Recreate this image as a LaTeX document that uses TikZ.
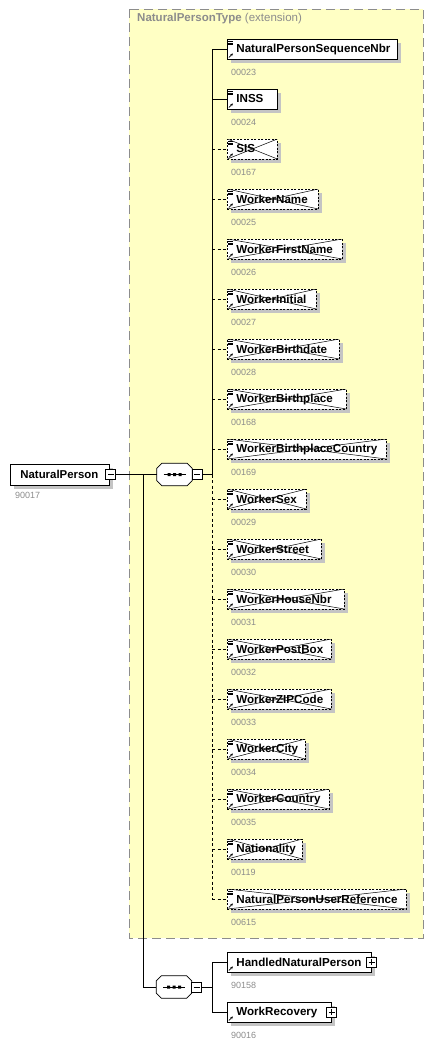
\documentclass[tikz,border=0pt]{standalone}
\usepackage{fontspec}
\setmainfont{Liberation Sans}
\usetikzlibrary{shadows,arrows.meta}

\definecolor{typebg}{HTML}{FFFFC4}
\definecolor{typeline}{HTML}{8C8C8C}
\definecolor{idgray}{HTML}{8C8C8C}
\definecolor{shadowgray}{HTML}{C4C4C4}

\newcommand{\elemicon}{%
  \draw[solid,line width=0.6pt]
    ([shift={(1pt,-2pt)}]path picture bounding box.north west) -- ++(5pt,0pt)
    ([shift={(1pt,-3.8pt)}]path picture bounding box.north west) -- ++(5pt,0pt)
    ([shift={(1pt,-5.6pt)}]path picture bounding box.north west) -- ++(5pt,0pt);
  \draw[solid,line width=0.6pt,-{Stealth[length=2.6pt,width=2.6pt]}]
    ([shift={(1.5pt,1.5pt)}]path picture bounding box.south west) -- ++(4pt,4pt);}
\newcommand{\elemcross}{%
  \draw[solid,line width=0.5pt]
    (path picture bounding box.north west) -- (path picture bounding box.south east)
    (path picture bounding box.south west) -- (path picture bounding box.north east);}
% octagon of a sequence compositor
\newcommand{\seqpath}[1]{([xshift=5pt]#1.north west) -- ([xshift=-5pt]#1.north east)
  -- ([yshift=-5pt]#1.north east) -- ([yshift=5pt]#1.south east)
  -- ([xshift=-5pt]#1.south east) -- ([xshift=5pt]#1.south west)
  -- ([yshift=5pt]#1.south west) -- ([yshift=-5pt]#1.north west) -- cycle}
\newcommand{\seqdots}[1]{%
  \draw[line width=0.8pt] ([xshift=-11pt]#1.center) -- ([xshift=11pt]#1.center);
  \fill ([shift={(-7pt,-1.5pt)}]#1.center) rectangle ([shift={(-4pt,1.5pt)}]#1.center)
        ([shift={(-1.5pt,-1.5pt)}]#1.center) rectangle ([shift={(1.5pt,1.5pt)}]#1.center)
        ([shift={(4pt,-1.5pt)}]#1.center) rectangle ([shift={(7pt,1.5pt)}]#1.center);}

\tikzset{
  typeframe/.style={draw=typeline, fill=typebg, line width=1pt, dash pattern=on 9pt off 5pt},
  typetitle/.style={anchor=west, inner sep=0pt, text=typeline, font=\fontsize{11.5}{13}\selectfont},
  shadowed/.style={drop shadow={shadow xshift=4pt, shadow yshift=-4pt, fill=shadowgray, opacity=1}},
  rootbox/.style={draw, fill=white, line width=0.8pt, anchor=west, minimum height=21pt,
    inner xsep=0pt, inner ysep=0pt, align=left, shadowed,
    font=\fontsize{11.4}{13}\selectfont\bfseries},
  elembox/.style={rootbox, font=\fontsize{11.6}{13}\selectfont\bfseries, minimum height=20pt,
    path picture={\elemicon}},
  optbox/.style={elembox, dash pattern=on 2pt off 1.5pt, path picture={\elemicon\elemcross}},
  refbox/.style={rootbox, font=\fontsize{11.6}{13}\selectfont\bfseries, minimum height=20pt,
    path picture={\draw[solid,line width=0.6pt,-{Stealth[length=2.6pt,width=2.6pt]}]
    ([shift={(1.5pt,1.5pt)}]path picture bounding box.south west) -- ++(4pt,4pt);}},
  idlbl/.style={anchor=west, inner sep=0pt, text=idgray, font=\fontsize{9}{10}\selectfont},
  togglebox/.style={draw, fill=white, line width=0.8pt, minimum size=10pt, inner sep=0pt},
  minusbox/.style={togglebox, path picture={\draw[line width=0.8pt]
    ([xshift=2pt]path picture bounding box.west) -- ([xshift=-2pt]path picture bounding box.east);}},
  plusbox/.style={togglebox, path picture={\draw[line width=0.8pt]
    ([xshift=2pt]path picture bounding box.west) -- ([xshift=-2pt]path picture bounding box.east)
    ([yshift=-2pt]path picture bounding box.north) -- ([yshift=2pt]path picture bounding box.south);}},
  seqbox/.style={rectangle, minimum width=35pt, minimum height=22pt, inner sep=0pt},
  seqline/.style={draw, fill=white, line width=0.8pt},
  conn/.style={line width=0.8pt},
  optconn/.style={line width=0.8pt, dash pattern=on 3pt off 2.5pt}
}

\begin{document}
\begin{tikzpicture}[x=1pt,y=-1pt]
  \useasboundingbox (0,0) rectangle (436,1044);

  % complex type frame
  \draw[typeframe] (129,9) rectangle (423,938);
  \node[typetitle] (title) at (137,19) {{\bfseries NaturalPersonType} (extension)};

  % root element
  \node[rootbox, text width=99pt] (np) at (10,474.5) {\hspace*{10pt}NaturalPerson};
  \node[minusbox] (np-m) at ([xshift=1pt]np.east) {};
  \node[idlbl] (np-id) at (15,495) {90017};

  % sequences
  \node[seqbox] (seq1) at (174.5,474.5) {};
  \fill[shadowgray, shift={(4pt,-4pt)}] \seqpath{seq1};
  \draw[seqline] \seqpath{seq1};
  \seqdots{seq1}
  \node[minusbox] (seq1-m) at ([xshift=5pt]seq1.east) {};
  \node[seqbox] (seq2) at (174,987) {};
  \fill[shadowgray, shift={(4pt,-4pt)}] \seqpath{seq2};
  \draw[seqline] \seqpath{seq2};
  \seqdots{seq2}
  \node[minusbox] (seq2-m) at ([xshift=5pt]seq2.east) {};

  % elements of the type
  \node[elembox, text width=170pt] (e1)  at (227,49)  {\hspace*{9pt}NaturalPersonSequenceNbr};
  \node[elembox, text width=50pt]  (e2)  at (227,99)  {\hspace*{9pt}INSS};
  \node[optbox,  text width=50pt]  (e3)  at (227,149) {\hspace*{9pt}SIS};
  \node[optbox,  text width=91pt]  (e4)  at (227,199) {\hspace*{9pt}WorkerName};
  \node[optbox,  text width=115pt] (e5)  at (227,249) {\hspace*{9pt}WorkerFirstName};
  \node[optbox,  text width=89pt]  (e6)  at (227,299) {\hspace*{9pt}WorkerInitial};
  \node[optbox,  text width=112pt] (e7)  at (227,349) {\hspace*{9pt}WorkerBirthdate};
  \node[optbox,  text width=119pt] (e8)  at (227,399) {\hspace*{9pt}WorkerBirthplace};
  \node[optbox,  text width=159pt] (e9)  at (227,449) {\hspace*{9pt}WorkerBirthplaceCountry};
  \node[optbox,  text width=79pt]  (e10) at (227,499) {\hspace*{9pt}WorkerSex};
  \node[optbox,  text width=94pt]  (e11) at (227,549) {\hspace*{9pt}WorkerStreet};
  \node[optbox,  text width=117pt] (e12) at (227,599) {\hspace*{9pt}WorkerHouseNbr};
  \node[optbox,  text width=104pt] (e13) at (227,649) {\hspace*{9pt}WorkerPostBox};
  \node[optbox,  text width=104pt] (e14) at (227,699) {\hspace*{9pt}WorkerZIPCode};
  \node[optbox,  text width=78pt]  (e15) at (227,749) {\hspace*{9pt}WorkerCity};
  \node[optbox,  text width=102pt] (e16) at (227,799) {\hspace*{9pt}WorkerCountry};
  \node[optbox,  text width=75pt]  (e17) at (227,849) {\hspace*{9pt}Nationality};
  \node[optbox,  text width=179pt] (e18) at (227,899) {\hspace*{9pt}NaturalPersonUserReference};

  \node[idlbl] (id1)  at (231,72)  {00023};
  \node[idlbl] (id2)  at (231,122) {00024};
  \node[idlbl] (id3)  at (231,172) {00167};
  \node[idlbl] (id4)  at (231,222) {00025};
  \node[idlbl] (id5)  at (231,272) {00026};
  \node[idlbl] (id6)  at (231,322) {00027};
  \node[idlbl] (id7)  at (231,372) {00028};
  \node[idlbl] (id8)  at (231,422) {00168};
  \node[idlbl] (id9)  at (231,472) {00169};
  \node[idlbl] (id10) at (231,522) {00029};
  \node[idlbl] (id11) at (231,572) {00030};
  \node[idlbl] (id12) at (231,622) {00031};
  \node[idlbl] (id13) at (231,672) {00032};
  \node[idlbl] (id14) at (231,722) {00033};
  \node[idlbl] (id15) at (231,772) {00034};
  \node[idlbl] (id16) at (231,822) {00035};
  \node[idlbl] (id17) at (231,872) {00119};
  \node[idlbl] (id18) at (231,922) {00615};

  % elements of the second sequence
  \node[refbox, text width=144pt] (h1) at (227,962)  {\hspace*{9pt}HandledNaturalPerson};
  \node[plusbox] (h1-p) at (h1.east) {};
  \node[idlbl] (hid1) at (231,985) {90158};
  \node[refbox, text width=104pt] (h2) at (227,1012) {\hspace*{9pt}WorkRecovery};
  \node[plusbox] (h2-p) at (h2.east) {};
  \node[idlbl] (hid2) at (231,1035) {90016};

  % connectors
  \coordinate (split) at (143,474.5);
  \coordinate (tr1) at (212,474.5);
  \coordinate (tr2) at (212,987);
  \draw[conn] (np-m.east) -- (seq1.west);
  \draw[conn] (split) |- (seq2.west);
  \draw[conn] (seq1-m.east) -- (tr1);
  \draw[conn] (seq2-m.east) -- (tr2);

  \draw[conn] (tr1) -- (tr1 |- e1.west);
  \draw[optconn] (tr1) -- (tr1 |- e18.west);
  \draw[conn] (tr1 |- e1.west) -- (e1.west);
  \draw[conn] (tr1 |- e2.west) -- (e2.west);
  \draw[optconn] (tr1 |- e3.west) -- (e3.west);
  \draw[optconn] (tr1 |- e4.west) -- (e4.west);
  \draw[optconn] (tr1 |- e5.west) -- (e5.west);
  \draw[optconn] (tr1 |- e6.west) -- (e6.west);
  \draw[optconn] (tr1 |- e7.west) -- (e7.west);
  \draw[optconn] (tr1 |- e8.west) -- (e8.west);
  \draw[optconn] (tr1 |- e9.west) -- (e9.west);
  \draw[optconn] (tr1 |- e10.west) -- (e10.west);
  \draw[optconn] (tr1 |- e11.west) -- (e11.west);
  \draw[optconn] (tr1 |- e12.west) -- (e12.west);
  \draw[optconn] (tr1 |- e13.west) -- (e13.west);
  \draw[optconn] (tr1 |- e14.west) -- (e14.west);
  \draw[optconn] (tr1 |- e15.west) -- (e15.west);
  \draw[optconn] (tr1 |- e16.west) -- (e16.west);
  \draw[optconn] (tr1 |- e17.west) -- (e17.west);
  \draw[optconn] (tr1 |- e18.west) -- (e18.west);

  \draw[conn] (tr2) |- (h1.west);
  \draw[conn] (tr2) |- (h2.west);
\end{tikzpicture}
\end{document}
